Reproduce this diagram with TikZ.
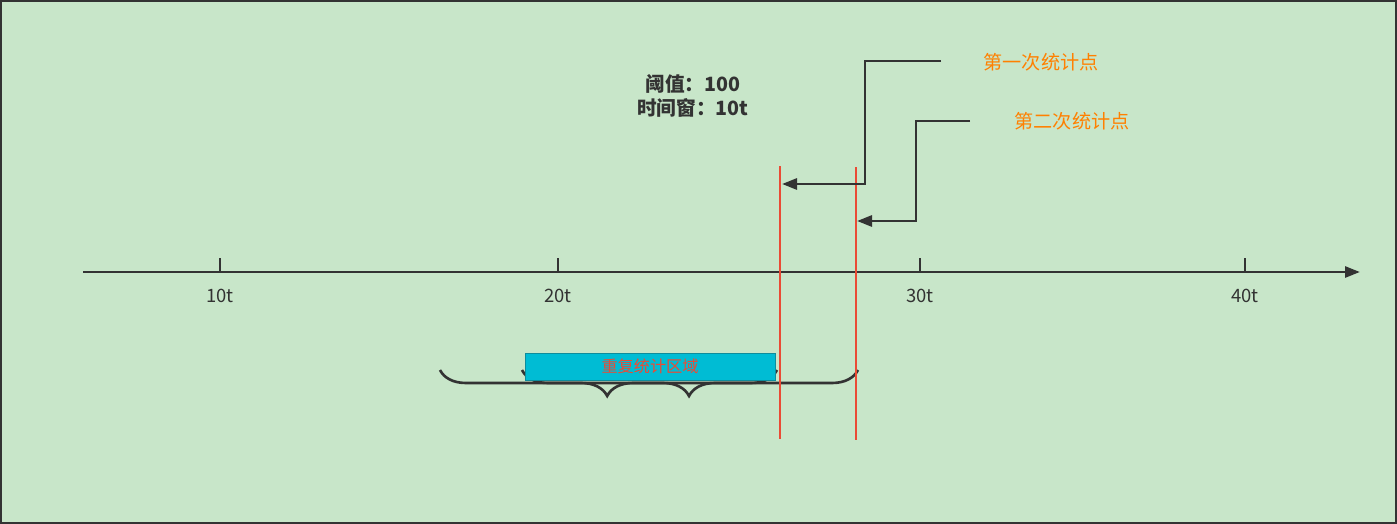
\documentclass[tikz,border=0pt]{standalone}
\usepackage{fontspec}
\setmainfont{Noto Sans CJK SC}
\usetikzlibrary{arrows.meta,decorations.pathreplacing}

\definecolor{sfondo}{HTML}{C8E6C9}
\definecolor{grigio}{HTML}{333333}
\definecolor{rosso}{HTML}{EA4B35}
\definecolor{arancio}{HTML}{FF8000}
\definecolor{ciano}{HTML}{00BCD4}
\definecolor{ottanio}{HTML}{0E8C9C}

\begin{document}
\begin{tikzpicture}[x=0.02cm,y=-0.02cm,>={Triangle[length=0.3cm,width=0.22cm]},
    axis/.style={grigio,line width=1.5pt},
    conn/.style={grigio,line width=1.6pt},
    soglia/.style={rosso,line width=1.4pt},
    graffa/.style={grigio,line width=1.5pt,decorate,decoration={brace,amplitude=0.52cm,#1}},
    tacca/.style={font=\fontsize{10.5}{12}\selectfont,text=grigio},
    etichetta/.style={font=\fontsize{10.9}{12}\selectfont,text=arancio},
    zona/.style={draw=ottanio,fill=ciano,text=rosso,inner sep=0pt,
      minimum width=5cm,minimum height=0.54cm,font=\fontsize{9.2}{11}\selectfont}]

  \useasboundingbox (0,0) rectangle (1397,524);

  % Sfondo
  \draw[grigio,line width=1.4pt,fill=sfondo] (1,1) rectangle (1396,523);

  % Asse
  \coordinate (O) at (83,272);
  \coordinate (E) at (1360,272);
  \draw[->,axis] (O) -- (E);
  \foreach \x/\t in {220/10t,558/20t,920/30t,1245/40t} {
    \draw[axis] (\x,258) -- (\x,272);
    \node[tacca] (l\t) at (\x,296) {\t};
  }

  % Parametri
  \node[font=\fontsize{11.2}{13.6}\selectfont\bfseries,text=grigio,align=center] (info) at (693,96) {阈值：100\\时间窗：10t};

  % Graffe
  \coordinate (g1a) at (858,370);
  \coordinate (g1b) at (440,370);
  \coordinate (g2a) at (777,370);
  \coordinate (g2b) at (522,370);
  \draw[graffa={aspect=0.6}] (g1a) -- (g1b);
  \draw[graffa={aspect=0.345}] (g2a) -- (g2b);

  % Zona ripetuta
  \node[zona] (rip) at (650,366.5) {重复统计区域};

  % Linee rosse
  \coordinate (r1a) at (780,166);
  \coordinate (r1b) at (780,439);
  \coordinate (r2a) at (856,167);
  \coordinate (r2b) at (856,440);
  \draw[soglia] (r1a) -- (r1b);
  \draw[soglia] (r2a) -- (r2b);

  % Punti di statistica
  \node[etichetta] (t1) at (1041,62) {第一次统计点};
  \node[etichetta] (t2) at (1072,121) {第二次统计点};

  \coordinate (s1) at (941,61);
  \coordinate (k1) at (865,61);
  \coordinate (a1) at (782,184);
  \coordinate (s2) at (970,121);
  \coordinate (k2) at (916,121);
  \coordinate (a2) at (857,221);
  \draw[->,conn] (s1) -- (k1) |- (a1);
  \draw[->,conn] (s2) -- (k2) |- (a2);

\end{tikzpicture}
\end{document}
